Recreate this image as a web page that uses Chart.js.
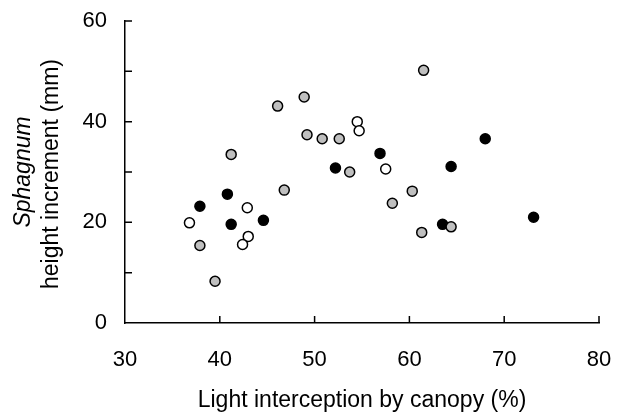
<!DOCTYPE html>
<html>
<head>
<meta charset="utf-8">
<script src="https://cdn.jsdelivr.net/npm/chart.js@4.4.1/dist/chart.umd.min.js"></script>
<style>
  html, body { margin: 0; padding: 0; background: #fff; }
  #wrap { width: 635px; height: 413px; position: relative; }
</style>
</head>
<body>
<div id="wrap"><canvas id="scatter"></canvas></div>
<script>
// light interception (%) vs Sphagnum height increment (mm), three groups
const openX  = [36.8, 42.9, 43.0, 42.4, 54.5, 54.7, 57.5];
const openY  = [19.9, 22.9, 17.2, 15.6, 40.0, 38.2, 30.6];

const blackX = [37.9, 40.8, 41.2, 44.6, 52.2, 56.9, 64.4, 68.0, 63.5, 73.1];
const blackY = [23.2, 25.6, 19.6, 20.4, 30.8, 33.7, 31.1, 36.6, 19.6, 21.0];

const grayX  = [37.9, 39.5, 41.2, 46.1, 46.8, 48.9, 49.2, 50.8, 52.6, 53.7, 61.5, 60.3, 58.2, 61.3, 64.4];
const grayY  = [15.4,  8.3, 33.5, 43.1, 26.4, 44.9, 37.4, 36.6, 36.6, 30.0, 50.2, 26.2, 23.8, 18.0, 19.1];

const xTicks = [30, 40, 50, 60, 70, 80];
const yTicks = [0, 10, 20, 30, 40, 50, 60];
const yLabelled = [0, 20, 40, 60];

const FONT = "'Liberation Sans', Arial, Helvetica, sans-serif";

function toPoints(xs, ys) {
  return xs.map((x, i) => ({ x: x, y: ys[i] }));
}

// inward tick marks + two-line y title (first line italic)
const axisExtras = {
  id: 'axisExtras',
  afterDraw(chart) {
    const ctx = chart.ctx;
    const xs = chart.scales.x;
    const ys = chart.scales.y;
    const area = chart.chartArea;
    ctx.save();
    ctx.strokeStyle = '#000';
    ctx.lineWidth = 1.5;
    ctx.beginPath();
    xTicks.forEach(v => {
      if (v === 30) return;
      const px = xs.getPixelForValue(v);
      ctx.moveTo(px, area.bottom);
      ctx.lineTo(px, area.bottom - 7);
    });
    yTicks.forEach(v => {
      if (v === 0) return;
      const py = ys.getPixelForValue(v);
      ctx.moveTo(area.left, py);
      ctx.lineTo(area.left + 7, py);
    });
    ctx.stroke();

    ctx.fillStyle = '#000';
    ctx.textAlign = 'center';
    ctx.textBaseline = 'alphabetic';
    ctx.translate(0, 173);
    ctx.rotate(-Math.PI / 2);
    ctx.font = 'italic 23px ' + FONT;
    ctx.fillText('Sphagnum', 1, 29.5);
    ctx.font = '23px ' + FONT;
    ctx.fillText('height increment (mm)', -1, 58);
    ctx.restore();
  }
};

const pointStyle = (fill) => ({
  backgroundColor: fill,
  borderColor: '#000',
  borderWidth: 1.5,
  pointRadius: 5,
  pointHoverRadius: 5
});

new Chart(document.getElementById('scatter'), {
  type: 'scatter',
  data: {
    datasets: [
      { label: 'gray', data: toPoints(grayX, grayY), ...pointStyle('#bfbfbf') },
      { label: 'open', data: toPoints(openX, openY), ...pointStyle('#ffffff') },
      { label: 'black', data: toPoints(blackX, blackY), ...pointStyle('#000000') }
    ]
  },
  options: {
    responsive: true,
    maintainAspectRatio: false,
    animation: false,
    layout: { padding: { left: 0, right: 36, top: 21, bottom: 0 } },
    plugins: {
      legend: { display: false },
      tooltip: { enabled: false }
    },
    scales: {
      x: {
        type: 'linear',
        min: 30,
        max: 80,
        afterFit: (s) => { s.height = 90; s.paddingLeft = 0; s.paddingRight = 0; },
        border: { color: '#000', width: 1.5 },
        grid: { display: true, drawOnChartArea: false, drawTicks: false, color: 'rgba(0,0,0,0)' },
        ticks: {
          stepSize: 10,
          padding: 24,
          color: '#000',
          font: { family: FONT, size: 22 }
        },
        title: {
          display: true,
          text: 'Light interception by canopy (%)',
          color: '#000',
          font: { family: FONT, size: 23 },
          padding: { top: 0, bottom: -1 }
        }
      },
      y: {
        type: 'linear',
        min: 0,
        max: 60,
        afterFit: (s) => { s.width = 125; s.paddingTop = 0; s.paddingBottom = 0; },
        border: { color: '#000', width: 1.5 },
        grid: { display: true, drawOnChartArea: false, drawTicks: false, color: 'rgba(0,0,0,0)' },
        ticks: {
          stepSize: 10,
          padding: 18,
          color: '#000',
          font: { family: FONT, size: 22 },
          callback: (v) => yLabelled.includes(v) ? String(v) : ''
        }
      }
    }
  },
  plugins: [axisExtras]
});
</script>
</body>
</html>
